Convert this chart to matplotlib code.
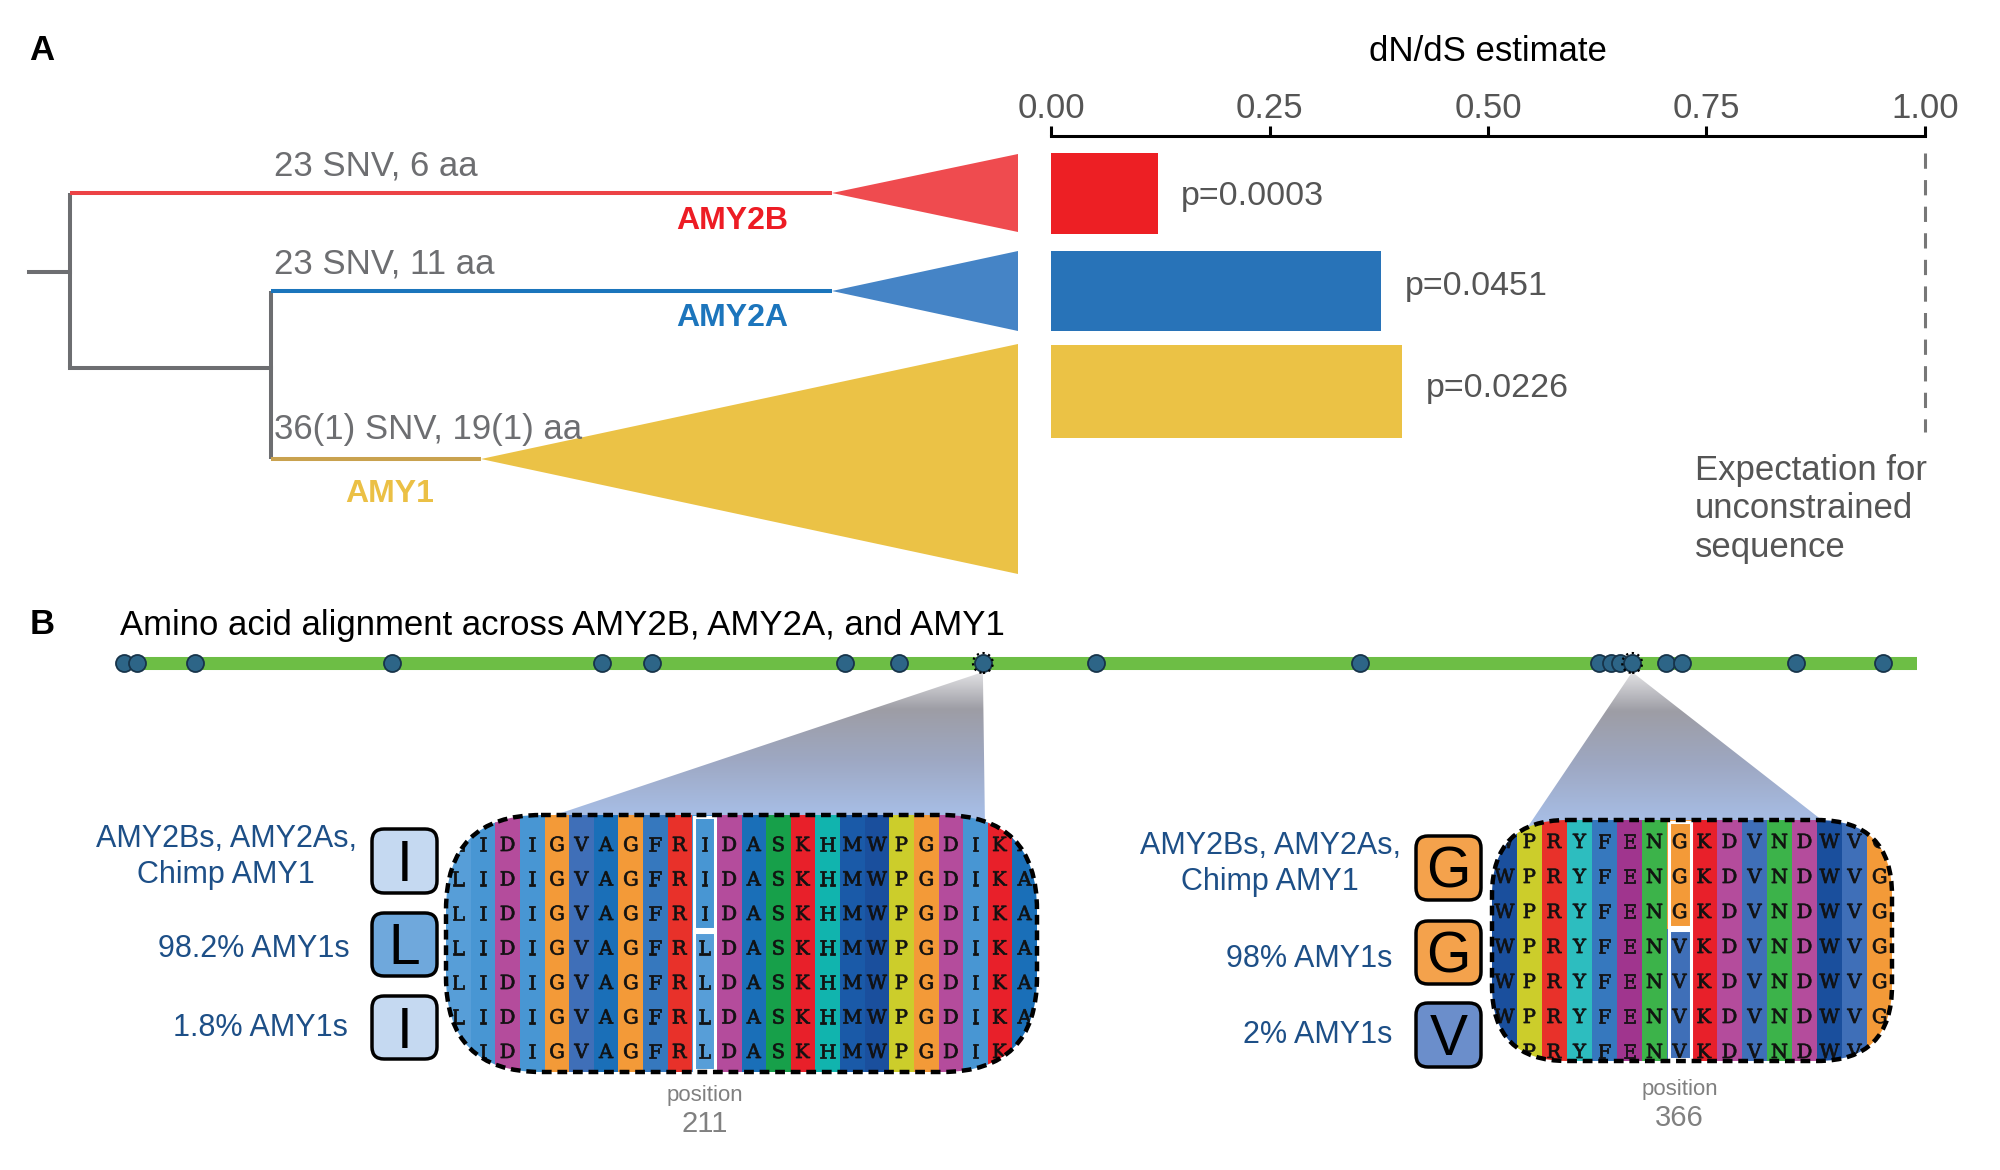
import matplotlib
matplotlib.use('Agg')
import matplotlib.pyplot as plt
import numpy as np
from matplotlib.patches import Polygon, FancyBboxPatch, Rectangle, PathPatch
from matplotlib.colors import LinearSegmentedColormap
from matplotlib.textpath import TextPath
from matplotlib.font_manager import FontProperties
from matplotlib.transforms import Affine2D

plt.rcParams['font.family'] = ['Liberation Sans', 'DejaVu Sans']

# ---- panel A data ----
clades = ['AMY2B', 'AMY2A', 'AMY1']
branch_labels = ['23 SNV, 6 aa', '23 SNV, 11 aa', '36(1) SNV, 19(1) aa']
dnds = [0.122, 0.378, 0.402]
pvals = ['p=0.0003', 'p=0.0451', 'p=0.0226']
dnds_ticks = [0.0, 0.25, 0.5, 0.75, 1.0]
neutral_dnds = 1.0

# ---- panel B data ----
aln_range = (5, 434)
variant_sites = [6, 9, 23, 70, 120, 132, 178, 191, 211, 238, 301,
                 358, 361, 363, 366, 374, 378, 405, 426]
zoom_sites = [211, 366]
win211_ref = 'LIDIGVAGFRIDASKHMWPGDIKA'
win211_alt = 'LIDIGVAGFRLDASKHMWPGDIKA'
win366_ref = 'WPRYFENGKDVNDWVG'
win366_alt = 'WPRYFENVKDVNDWVG'
groups211 = ['AMY2Bs, AMY2As,\nChimp AMY1', '98.2% AMY1s', '1.8% AMY1s']
res211 = ['I', 'L', 'I']
groups366 = ['AMY2Bs, AMY2As,\nChimp AMY1', '98% AMY1s', '2% AMY1s']
res366 = ['G', 'G', 'V']

# ---- styles ----
W, H = 2000, 1170
gray = '#6d6e71'
txt_gray = '#555555'
branch_col = ['#ec4245', '#1b75bc', '#c9a24f']
tri_col = ['#ef4b4f', '#4584c6', '#ebc246']
name_col = ['#ed1c24', '#1c75bc', '#ebc045']
bar_col = ['#ed1f24', '#2873b8', '#ebc245']
grp_col = '#1d4f87'
aa_col = {'L': '#579ed8', 'I': '#4896d3', 'D': '#b44c9c', 'G': '#f39a38',
          'V': '#3f6fb8', 'A': '#1a6fb8', 'F': '#3678be', 'R': '#e8312a',
          'S': '#17a04a', 'K': '#e8202a', 'H': '#11b4ae', 'M': '#1a5aa8',
          'W': '#1a4f9d', 'P': '#cccd2b', 'Y': '#2dbdbf', 'E': '#a0358e',
          'N': '#3cb34a'}
res_box_col = {'I': '#c5d9f1', 'L': '#6fa8dc', 'G': '#f4a24c', 'V': '#6b8ecb'}
aln_font = FontProperties(family='DejaVu Serif')


def fig_rect(x0, y0, x1, y1):
    return [x0 / W, 1 - y1 / H, (x1 - x0) / W, (y1 - y0) / H]


fig = plt.figure(figsize=(20, 11.7), dpi=100, facecolor='w')
ax = fig.add_axes([0, 0, 1, 1])
ax.set_xlim(0, W)
ax.set_ylim(H, 0)
ax.axis('off')

# ================= panel A =================
ax.text(42, 50, 'A', fontsize=25, fontweight='bold', ha='center', va='center')

# tree layout (schematic)
root_x, stub_x, root_y = 70, 29, 272
node_x, node_y = 271, 368
tip_x = [832, 832, 481]
tip_y = [193, 291, 459]
base_x = 1018
half_w = [39, 40, 115]
lw_tree = 2.9

ax.plot([stub_x, root_x], [root_y, root_y], color=gray, lw=lw_tree)
ax.plot([root_x, root_x], [tip_y[0], node_y], color=gray, lw=lw_tree, solid_capstyle='butt')
ax.plot([root_x, node_x], [node_y, node_y], color=gray, lw=lw_tree)
ax.plot([node_x, node_x], [tip_y[1], tip_y[2]], color=gray, lw=lw_tree, solid_capstyle='butt')
starts = [root_x, node_x, node_x]
name_dx = [732, 732, 390]
name_dy = [28, 27, 35]
lab_dy = [-27, -27, -30]
for i in range(3):
    ax.plot([starts[i], tip_x[i]], [tip_y[i], tip_y[i]], color=branch_col[i],
            lw=lw_tree, solid_capstyle='butt', zorder=3)
    ax.add_patch(Polygon([(tip_x[i], tip_y[i]), (base_x, tip_y[i] - half_w[i]),
                          (base_x, tip_y[i] + half_w[i])], closed=True,
                         fc=tri_col[i], ec='none', zorder=2))
    ax.text(274, tip_y[i] + lab_dy[i], branch_labels[i], fontsize=25,
            color=gray, ha='left', va='center', zorder=4)
    ax.text(name_dx[i], tip_y[i] + name_dy[i], clades[i], fontsize=23,
            fontweight='bold', color=name_col[i], ha='center', va='center')

# dN/dS bars
ax_bar = fig.add_axes(fig_rect(1051, 136, 1925, 600))
ax_bar.patch.set_alpha(0)
ax_bar.set_xlim(0, 1)
ax_bar.set_ylim(600, 136)
bar_y = [193.5, 291, 391.5]
bar_h = [81, 80, 93]
p_y = [197, 287, 389]
ax_bar.barh(bar_y, dnds, height=bar_h, color=bar_col, left=0)
for v, y, p in zip(dnds, p_y, pvals):
    ax_bar.annotate(p, (v, y), xytext=(17, 0), textcoords='offset points',
                    fontsize=24.5, color=txt_gray, va='center', ha='left')
ax_bar.plot([neutral_dnds, neutral_dnds], [153, 432], color='#777777', lw=2.2,
            ls=(0, (5, 3.7)), clip_on=False)
for s in ['left', 'right', 'bottom']:
    ax_bar.spines[s].set_visible(False)
ax_bar.spines['top'].set_linewidth(2.2)
ax_bar.xaxis.tick_top()
ax_bar.set_xticks(dnds_ticks)
ax_bar.set_xticklabels(['%.2f' % t for t in dnds_ticks])
ax_bar.tick_params(axis='x', length=7, width=2.2, labelsize=25,
                   labelcolor=txt_gray, pad=1)
ax_bar.set_yticks([])
ax_bar.xaxis.set_label_position('top')
ax_bar.set_xlabel('dN/dS estimate', fontsize=25, labelpad=22)
ax.text(1695, 509, 'Expectation for\nunconstrained\nsequence', fontsize=25,
        color=txt_gray, ha='left', va='center', linespacing=1.21)

# ================= panel B =================
ax.text(42, 625, 'B', fontsize=25, fontweight='bold', ha='center', va='center')
ax.text(120, 626, 'Amino acid alignment across AMY2B, AMY2A, and AMY1',
        fontsize=25, ha='left', va='center')

seq_x0, seq_x1, seq_y = 120, 1917, 663
ax_seq = fig.add_axes(fig_rect(seq_x0, seq_y - 20, seq_x1, seq_y + 20))
ax_seq.set_xlim(aln_range)
ax_seq.set_ylim(-1, 1)
ax_seq.axis('off')
ax_seq.plot(aln_range, [0, 0], color='#6dbe45', lw=9.4, solid_capstyle='butt')
ax_seq.scatter(variant_sites, np.zeros(len(variant_sites)), s=150,
               c='#2d6587', edgecolors='#17344a', linewidths=1.3, zorder=3, clip_on=False)
ax_seq.scatter(zoom_sites, np.zeros(len(zoom_sites)), s=205, facecolors='none',
               edgecolors='black', linewidths=1.6, linestyle=':', zorder=4, clip_on=False)


def seq_px(pos):
    return seq_x0 + (pos - aln_range[0]) * (seq_x1 - seq_x0) / (aln_range[1] - aln_range[0])


grad = LinearSegmentedColormap.from_list(
    'callout', [(0, '#e2e2e4'), (0.25, '#9d9da5'), (0.6, '#9ea8c3'), (1, '#a8c0e9')])


def callout(apex_x, left, right, ybase):
    pts = [(apex_x, 672), (left, ybase), (right, ybase)]
    poly = Polygon(pts, closed=True, fc='none', ec='none')
    ax.add_patch(poly)
    im = ax.imshow(np.linspace(0, 1, 256)[:, None], cmap=grad, aspect='auto',
                   extent=(min(left, apex_x) - 2, max(right, apex_x) + 2, ybase, 672),
                   interpolation='bilinear', zorder=1)
    im.set_clip_path(poly)


callout(seq_px(zoom_sites[0]), 540, seq_px(zoom_sites[0]) + 2, 820)
callout(seq_px(zoom_sites[1]), 1527, 1832, 828)


def glyph(letter, x, y, size, clip):
    # letter as a path so it can be clipped by the rounded window
    tp = TextPath((0, 0), letter, size=size, prop=aln_font)
    ext = tp.get_extents()
    cx = (ext.x0 + ext.x1) / 2
    tr = Affine2D().translate(-cx, 0).scale(1, -1).translate(x, y) + ax.transData
    p = PathPatch(tp, transform=tr, fc='#111111', ec='#111111', lw=0.55, zorder=3)
    ax.add_patch(p)
    p.set_clip_path(clip)


def window(x0, y0, x1, y1, radius, ref, alt, n_ref, hl, row0, dy):
    ncol = len(ref)
    cw = (x1 - x0) / ncol
    box = FancyBboxPatch((x0, y0), x1 - x0, y1 - y0,
                         boxstyle='round,pad=0,rounding_size=%d' % radius,
                         fc='none', ec='black', lw=3.2, ls=(0, (2.2, 1.3)), zorder=5)
    ax.add_patch(box)
    split = row0 + (n_ref - 0.5) * dy
    for c in range(ncol):
        cx = x0 + c * cw
        if ref[c] == alt[c]:
            parts = [(y0, y1, ref[c])]
        else:
            parts = [(y0, split, ref[c]), (split, y1, alt[c])]
        for ya, yb, aa in parts:
            r = Rectangle((cx, ya), cw + 0.4, yb - ya, fc=aa_col[aa], ec='none', zorder=2)
            ax.add_patch(r)
            r.set_clip_path(box)
    for r in range(7):
        s = ref if r < n_ref else alt
        yc = row0 + r * dy
        for c in range(ncol):
            glyph(s[c], x0 + (c + 0.5) * cw, yc + 7, 19.5, box)
    hx = x0 + hl * cw
    ax.add_patch(Rectangle((hx + 1.5, y0 + 2), cw - 3, split - y0 - 3.5,
                           fc='none', ec='white', lw=2.2, zorder=4))
    ax.add_patch(Rectangle((hx + 1.5, split + 1.5), cw - 3, y1 - split - 3.5,
                           fc='none', ec='white', lw=2.2, zorder=4))
    return hx + cw / 2


def residue_boxes(bx0, bx1, ys, res):
    for (ya, yb), aa in zip(ys, res):
        ax.add_patch(FancyBboxPatch((bx0, ya), bx1 - bx0, yb - ya,
                                    boxstyle='round,pad=0,rounding_size=12',
                                    fc=res_box_col[aa], ec='black', lw=2.5, zorder=3))
        ax.text((bx0 + bx1) / 2, (ya + yb) / 2 + 20, aa, fontsize=41,
                ha='center', va='baseline', zorder=4)


hl1 = window(446, 815, 1037, 1072, 95, win211_ref, win211_alt, 3, 10, 844, 34.5)
hl2 = window(1492, 820, 1892, 1061, 75, win366_ref, win366_alt, 3, 7, 841, 35)

residue_boxes(372, 437, [(829, 893), (913, 976), (996, 1059)], res211)
residue_boxes(1416, 1481, [(836, 900), (921, 984), (1003, 1067)], res366)

ax.text(226, 857, groups211[0], fontsize=22, color=grp_col, ha='center', va='center',
        linespacing=1.25)
ax.text(350, 949, groups211[1], fontsize=22, color=grp_col, ha='right', va='center')
ax.text(348, 1028, groups211[2], fontsize=22, color=grp_col, ha='right', va='center')
ax.text(1270, 864, groups366[0], fontsize=22, color=grp_col, ha='center', va='center',
        linespacing=1.25)
ax.text(1392, 959, groups366[1], fontsize=22, color=grp_col, ha='right', va='center')
ax.text(1392, 1035, groups366[2], fontsize=22, color=grp_col, ha='right', va='center')

for hx, site, y in [(hl1, zoom_sites[0], 1095), (hl2, zoom_sites[1], 1089)]:
    ax.text(hx, y, 'position', fontsize=16, color='#808080', ha='center', va='center')
    ax.text(hx, y + 29, str(site), fontsize=21, color='#808080', ha='center', va='center')

ax.set_xlim(0, W)
ax.set_ylim(H, 0)
fig.savefig('out.png', dpi=100, facecolor='w')
